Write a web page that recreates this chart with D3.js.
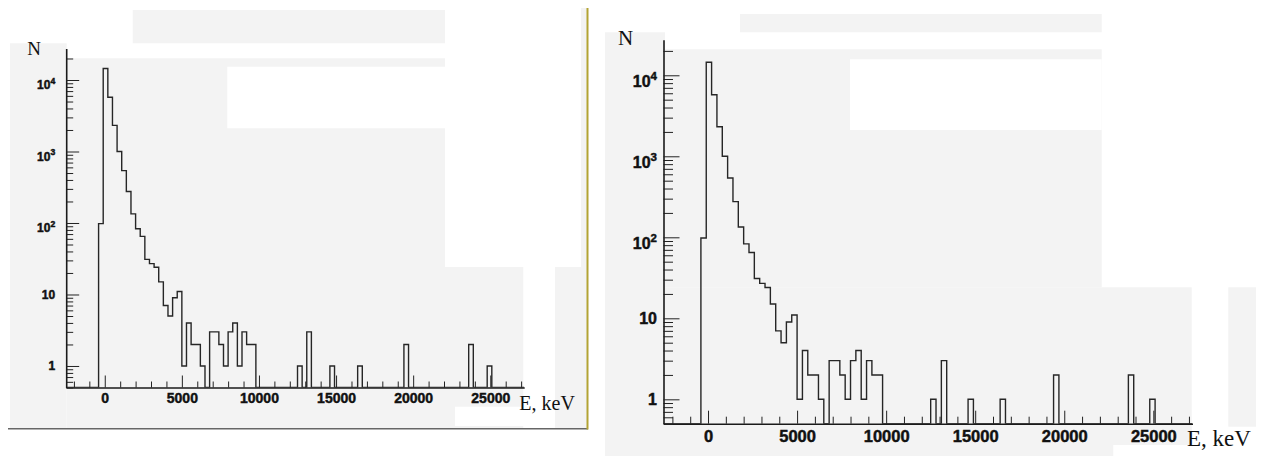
<!DOCTYPE html>
<html><head><meta charset="utf-8">
<script src="https://cdn.jsdelivr.net/npm/d3@7"></script>
<style>html,body{margin:0;padding:0;background:#fff;} svg{display:block}</style>
</head><body>
<svg id="c" width="1269" height="456"></svg>
<script>
// ---------------- data ----------------
const binWidth = 300;                 // keV per bin
const histRange = [-2500, 27200];     // histogram x range, keV
const binLow = [-400,-100,200,500,800,1100,1400,1700,2000,2300,2600,2900,3200,3500,3800,4100,4400,4700,
                5000,5300,5600,5900,6200,6800,7100,7400,7700,8000,8300,8600,8900,9200,9500,
                12500,13100,14600,16400,19400,23600,24800];
const counts = [98,14500,5750,2320,1000,540,276,134,83,65,31,27,24,15,7,5,9,11,
                1,4,2,2,1,3,3,2,1,3,4,1,3,2,2,
                1,3,1,1,2,2,1];
const yDomain = [0.5, 27500];
const xMajorTicks = [0,5000,10000,15000,20000,25000];
const xTickLabels = ["0","5000","10000","15000","20000","25000"];
const yTickValues = [1,10,100,1000,10000];
const yTickBase = ["1","10","10","10","10"];
const yTickExp  = ["","","2","3","4"];
const yAxisTitle = "N";
const xAxisTitle = "E, keV";

// ---------------- layout ----------------
const svg = d3.select("#c");
const GRAY = "#f3f3f3";

function rect(x,y,w,h,fill){ svg.append("rect").attr("x",x).attr("y",y).attr("width",w).attr("height",h).attr("fill",fill); }

// scanned-page background patches, left panel
rect(132.7,10,312.3,33.3,GRAY);
rect(10,43.3,56.7,385.2,GRAY);
rect(66.7,58.3,378.3,208.7,GRAY);
rect(227.3,66.7,217.7,61.6,"#ffffff");
rect(66.7,267,456.6,161.5,GRAY);
rect(555,267,32,161.5,GRAY);
rect(581,8,6,259,GRAY);
rect(455,406.7,90,19.3,"#ffffff");
// frame lines of left panel
svg.append("line").attr("x1",8).attr("x2",588).attr("y1",428.8).attr("y2",428.8).attr("stroke","#666").attr("stroke-width",1.5);
svg.append("line").attr("x1",587.5).attr("x2",587.5).attr("y1",8).attr("y2",429.5).attr("stroke","#b3a434").attr("stroke-width",2);

// right panel patches
rect(740,14,361.7,18.3,GRAY);
rect(605,32.3,60,423.7,GRAY);
rect(665,49.3,436.7,238,GRAY);
rect(850,59.3,251.7,70.7,"#ffffff");
rect(665,287.3,526.7,168.7,GRAY);
rect(1228.3,287.3,27.7,139.4,GRAY);
rect(1113.3,445,143,11,"#ffffff");

// full histogram built from the bins
const nBins = Math.round((histRange[1]-histRange[0])/binWidth);
const lookup = new Map(binLow.map((b,i)=>[b,counts[i]]));
const bins = d3.range(nBins).map(i=>{
  const lo = histRange[0]+i*binWidth;
  return {lo, hi: lo+binWidth, v: lookup.get(lo) || 0};
});

const panels = [
  {id:"L", xr:[66.2,524.2], yr:[387.5,48.6], xfs:14, xpad:6, xMaj:12, xMin:6,
   yfs:12, ypad:11, yMaj:13, yMin:7, N:[27.3,55,19], E:[519.3,410,20]},
  {id:"R", xr:[663.5,1192.5], yr:[423.7,39.7], xfs:16.5, xpad:6.5, xMaj:13, xMin:7,
   yfs:16, ypad:6.5, yMaj:16, yMin:9.5, N:[618,45,21], E:[1187,446,23]}
];

panels.forEach(p=>{
  const x = d3.scaleLinear().domain(histRange).range(p.xr);
  const y = d3.scaleLog().domain(yDomain).range(p.yr);
  const yb = p.yr[0];

  svg.append("clipPath").attr("id","clip"+p.id).append("rect")
    .attr("x",p.xr[0]).attr("y",p.yr[1]).attr("width",p.xr[1]-p.xr[0]).attr("height",p.yr[0]-p.yr[1]);

  const pts = [[x(histRange[0]), yb]];
  bins.forEach(b=>{
    const yy = b.v>0 ? y(b.v) : yb;
    pts.push([x(b.lo),yy],[x(b.hi),yy]);
  });
  pts.push([x(histRange[1]), yb]);
  svg.append("path").attr("d", d3.line()(pts)).attr("fill","none")
    .attr("stroke","#262626").attr("stroke-width",1.4).attr("clip-path","url(#clip"+p.id+")");

  // x axis minor ticks
  const xMinor = d3.range(-2000, histRange[1], 1000).filter(v=>v%5000!==0);
  svg.append("g").attr("transform",`translate(0,${yb})`)
    .call(d3.axisBottom(x).tickValues(xMinor).tickSize(-p.xMin).tickSizeOuter(0).tickFormat(""))
    .call(g=>g.select(".domain").remove())
    .call(g=>g.selectAll("line").attr("stroke","#222").attr("stroke-width",1));
  // x axis major
  svg.append("g").attr("transform",`translate(0,${yb})`)
    .call(d3.axisBottom(x).tickValues(xMajorTicks).tickSize(-p.xMaj).tickSizeOuter(0)
      .tickPadding(p.xpad).tickFormat((d,i)=>xTickLabels[i]))
    .call(g=>g.select(".domain").attr("stroke","#1a1a1a").attr("stroke-width",1.6))
    .call(g=>g.selectAll("line").attr("stroke","#222").attr("stroke-width",1))
    .call(g=>g.selectAll("text").attr("font-family","'Liberation Sans', Arial, sans-serif")
      .attr("font-weight","bold").attr("font-size",p.xfs).attr("fill","#111")
      .attr("stroke","#111").attr("stroke-width",0.45));

  // y axis minor ticks
  const yMinor = y.ticks().filter(v=>!yTickValues.includes(v) && v>=yDomain[0] && v<=yDomain[1]);
  svg.append("g").attr("transform",`translate(${p.xr[0]},0)`)
    .call(d3.axisLeft(y).tickValues(yMinor).tickSize(-p.yMin).tickSizeOuter(0).tickFormat(""))
    .call(g=>g.select(".domain").remove())
    .call(g=>g.selectAll("line").attr("stroke","#222").attr("stroke-width",1));
  // y axis major
  svg.append("g").attr("transform",`translate(${p.xr[0]},0)`)
    .call(d3.axisLeft(y).tickValues(yTickValues).tickSize(-p.yMaj).tickSizeOuter(0)
      .tickPadding(p.ypad).tickFormat((d,i)=>yTickBase[i]))
    .call(g=>g.select(".domain").attr("stroke","#1a1a1a").attr("stroke-width",1.6))
    .call(g=>g.selectAll("line").attr("stroke","#222").attr("stroke-width",1))
    .call(g=>g.selectAll("text").attr("font-family","'Liberation Sans', Arial, sans-serif")
      .attr("font-weight","bold").attr("font-size",p.yfs).attr("fill","#111")
      .attr("stroke","#111").attr("stroke-width",0.45)
      .each(function(d,i){
        if(yTickExp[i]){
          d3.select(this).attr("dy","0.72em");
          d3.select(this).append("tspan").attr("font-size","0.72em").attr("dy","-0.6em").text(yTickExp[i]);
        }
      }));

  // axis titles
  svg.append("text").attr("x",p.N[0]).attr("y",p.N[1]).attr("font-family","'Liberation Serif','Times New Roman',serif")
    .attr("font-size",p.N[2]).attr("fill","#111").text(yAxisTitle);
  svg.append("text").attr("x",p.E[0]).attr("y",p.E[1]).attr("font-family","'Liberation Serif','Times New Roman',serif")
    .attr("font-size",p.E[2]).attr("fill","#111").text(xAxisTitle);
});
</script>
</body></html>
